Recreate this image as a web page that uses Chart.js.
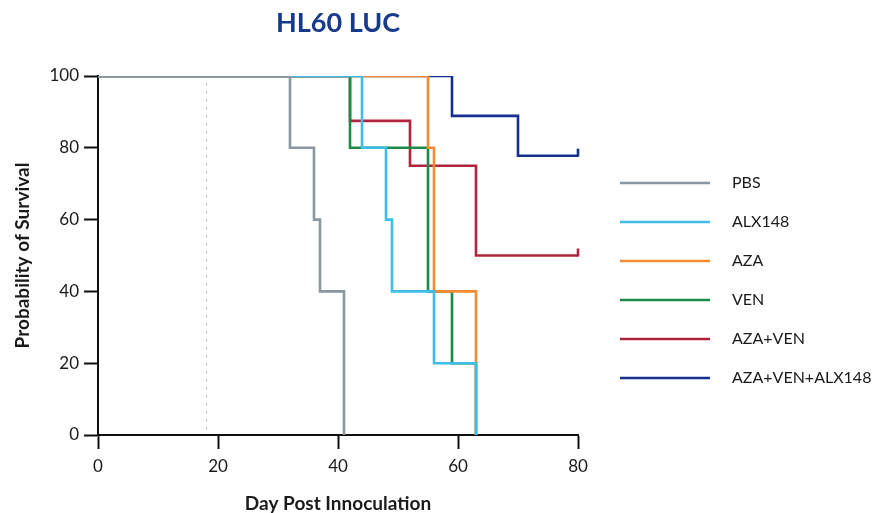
<!DOCTYPE html>
<html>
<head>
<meta charset="utf-8">
<script src="https://cdn.jsdelivr.net/npm/chart.js@4/dist/chart.umd.min.js"></script>
<style>
  html, body { margin: 0; padding: 0; background: #ffffff; }
  #wrap { width: 873px; height: 513px; }
</style>
</head>
<body>
<div id="wrap"><canvas id="km" width="873" height="513"></canvas></div>
<script>
// Kaplan-Meier survival, HL60 LUC model
const groupNames = ['PBS', 'ALX148', 'AZA', 'VEN', 'AZA+VEN', 'AZA+VEN+ALX148'];
const groupColors = ['#8a96a0', '#3dbde8', '#f58a35', '#1e8a4a', '#b1233d', '#13308c'];

// event days and survival (%) after each event
const pbsDays = [0, 32, 36, 37, 41];
const pbsSurv = [100, 80, 60, 40, 0];
const alxDays = [0, 44, 48, 49, 56, 63];
const alxSurv = [100, 80, 60, 40, 20, 0];
const azaDays = [0, 55, 56, 63];
const azaSurv = [100, 80, 40, 0];
const venDays = [0, 42, 55, 59, 63];
const venSurv = [100, 80, 40, 20, 0];
const azaVenDays = [0, 42, 52, 63, 80];
const azaVenSurv = [100, 87.5, 75, 50, 50];
const tripleDays = [0, 59, 70, 80];
const tripleSurv = [100, 88.9, 77.8, 77.8];

// groups still having censored subjects at study end
const censoredAtEnd = [false, false, false, false, true, true];

const xTicks = [0, 20, 40, 60, 80];
const yTicks = [0, 20, 40, 60, 80, 100];
const treatmentStartDay = 18;

const seriesDays = [pbsDays, alxDays, azaDays, venDays, azaVenDays, tripleDays];
const seriesSurv = [pbsSurv, alxSurv, azaSurv, venSurv, azaVenSurv, tripleSurv];

const datasets = groupNames.map((name, i) => ({
  label: name,
  data: seriesDays[i].map((d, k) => ({ x: d, y: seriesSurv[i][k] })),
  borderColor: groupColors[i],
  backgroundColor: groupColors[i],
  borderWidth: 2.6,
  stepped: true,
  pointRadius: 0,
  fill: false,
  borderCapStyle: 'butt',
  borderJoinStyle: 'miter'
}));

const FONT = 'Lato, "Open Sans", "DejaVu Sans", sans-serif';

// dotted reference line at the treatment start day
const startLinePlugin = {
  id: 'startLine',
  beforeDatasetsDraw(chart) {
    const { ctx, scales: { x, y } } = chart;
    const px = Math.round(x.getPixelForValue(treatmentStartDay)) + 0.5;
    ctx.save();
    ctx.strokeStyle = '#b8b8b8';
    ctx.lineWidth = 1.2;
    ctx.setLineDash([2, 6]);
    ctx.beginPath();
    ctx.moveTo(px, y.getPixelForValue(98));
    ctx.lineTo(px, y.getPixelForValue(0));
    ctx.stroke();
    ctx.restore();
  }
};

// upward censor tick at the last point of censored groups
const censorPlugin = {
  id: 'censorTicks',
  afterDatasetsDraw(chart) {
    const { ctx } = chart;
    chart.data.datasets.forEach((ds, i) => {
      if (!censoredAtEnd[i]) return;
      const meta = chart.getDatasetMeta(i);
      const last = meta.data[meta.data.length - 1];
      ctx.save();
      ctx.strokeStyle = ds.borderColor;
      ctx.lineWidth = 2.6;
      ctx.beginPath();
      ctx.moveTo(last.x, last.y + 1);
      ctx.lineTo(last.x, last.y - 7);
      ctx.stroke();
      ctx.restore();
    });
  }
};

// legend drawn as line samples stacked to the right of the plot
const sideLegendPlugin = {
  id: 'sideLegend',
  afterDraw(chart) {
    const { ctx } = chart;
    const x0 = 620, x1 = 710, tx = 732, top = 183, step = 39;
    ctx.save();
    ctx.font = '16px ' + FONT;
    ctx.textBaseline = 'middle';
    ctx.textAlign = 'left';
    chart.data.datasets.forEach((ds, i) => {
      const yy = top + i * step;
      ctx.strokeStyle = ds.borderColor;
      ctx.lineWidth = 2.6;
      ctx.beginPath();
      ctx.moveTo(x0, yy);
      ctx.lineTo(x1, yy);
      ctx.stroke();
      ctx.fillStyle = '#1a1a1a';
      ctx.fillText(ds.label, tx, yy);
    });
    ctx.restore();
  }
};

new Chart(document.getElementById('km'), {
  type: 'line',
  data: { datasets },
  plugins: [startLinePlugin, censorPlugin, sideLegendPlugin],
  options: {
    responsive: false,
    animation: false,
    layout: { padding: { left: 0, right: 295, top: 0, bottom: 0 } },
    plugins: {
      legend: { display: false },
      tooltip: { enabled: false },
      title: {
        display: true,
        text: 'HL60 LUC',
        color: '#173a8c',
        fullSize: false,
        font: { family: FONT, size: 27, weight: 'bold' },
        padding: { top: 7, bottom: 36.6 }
      }
    },
    scales: {
      x: {
        type: 'linear',
        min: 0,
        max: 80,
        afterFit(scale) { scale.height = 78; },
        afterBuildTicks(scale) { scale.ticks = xTicks.map(v => ({ value: v })); },
        border: { display: true, color: '#111', width: 2 },
        grid: { display: true, drawOnChartArea: false, drawTicks: true, tickLength: 14, tickColor: '#111', tickWidth: 2 },
        ticks: { color: '#1a1a1a', font: { family: FONT, size: 17 }, padding: 7, maxRotation: 0 },
        title: {
          display: true,
          text: 'Day Post Innoculation',
          color: '#1a1a1a',
          font: { family: FONT, size: 19, weight: 'bold' },
          padding: { top: 0, bottom: -2 }
        }
      },
      y: {
        type: 'linear',
        min: 0,
        max: 100,
        afterFit(scale) { scale.width = 98; },
        afterBuildTicks(scale) { scale.ticks = yTicks.map(v => ({ value: v })); },
        border: { display: true, color: '#111', width: 2 },
        grid: { display: true, drawOnChartArea: false, drawTicks: true, tickLength: 14, tickColor: '#111', tickWidth: 2 },
        ticks: { color: '#1a1a1a', font: { family: FONT, size: 17 }, padding: 5 },
        title: {
          display: true,
          text: 'Probability of Survival',
          color: '#1a1a1a',
          font: { family: FONT, size: 19, weight: 'bold' },
          padding: { top: 11, bottom: 0 }
        }
      }
    }
  }
});
</script>
</body>
</html>
